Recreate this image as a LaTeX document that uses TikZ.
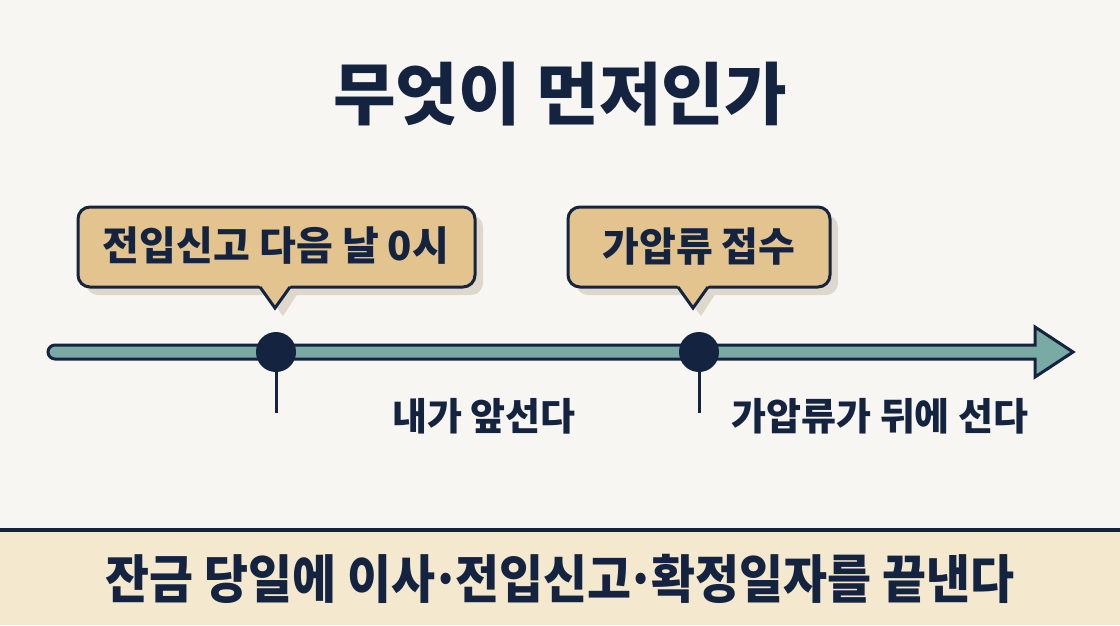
\documentclass[tikz,border=0pt]{standalone}
\usepackage{fontspec}
\setmainfont{Noto Sans CJK KR}
\definecolor{navy}{HTML}{14233F}
\definecolor{teal}{HTML}{7AAAA4}
\definecolor{tan}{HTML}{E3C48F}
\definecolor{bg}{HTML}{F7F6F2}
\definecolor{band}{HTML}{F4E8CE}
\definecolor{shadow}{HTML}{DDD7CC}
\newcommand{\mdot}{\kern-0.1em·\kern-0.1em}
\tikzset{
  txt/.style={text=navy, font=\bfseries, inner sep=0pt, anchor=center},
  callout/.style={fill=tan, draw=navy, line width=3pt, rounded corners=12pt},
  shadowbox/.style={fill=shadow, rounded corners=12pt},
  dot/.style={circle, fill=navy, minimum size=40pt, inner sep=0pt},
  stem/.style={draw=navy, line width=3pt},
}
\begin{document}
\begin{tikzpicture}[x=1pt, y=-1pt]
\useasboundingbox (0,0) rectangle (1120,625);
\fill[bg] (0,0) rectangle (1120,625);
% bottom band
\fill[band] (0,530) rectangle (1120,625);
\draw[navy, line width=3.5pt] (0,530) -- (1120,530);
% title
\node[txt, font=\fontsize{68}{68}\selectfont\bfseries] (title) at (560,94) {무엇이 먼저인가};
% timeline arrow
\draw[fill=teal, draw=navy, line width=3pt, line join=miter]
  (1035,345) -- (1035,327) -- (1073,352) -- (1035,377) -- (1035,359) -- (55,359)
  arc[start angle=90, end angle=270, radius=7] -- cycle;
% callout 1 shadow + box
\fill[shadowbox] (86,215) rectangle (483,295);
\fill[shadow] (266,293) -- (283,316) -- (298,293) -- cycle;
\draw[callout] (78,207) rectangle (475,287);
\fill[tan] (259,285) -- (275,307) -- (291,285) -- cycle;
\draw[navy, line width=3pt, line join=miter] (260,287) -- (275,308) -- (290,287);
\node[txt, font=\fontsize{40}{40}\selectfont\bfseries] (c1) at (276,246) {전입신고 다음 날 0시};
% callout 2 shadow + box
\fill[shadowbox] (576,215) rectangle (838,295);
\fill[shadow] (684,293) -- (701,316) -- (716,293) -- cycle;
\draw[callout] (568,207) rectangle (830,287);
\fill[tan] (677,285) -- (693,307) -- (709,285) -- cycle;
\draw[navy, line width=3pt, line join=miter] (678,287) -- (693,308) -- (708,287);
\node[txt, font=\fontsize{40}{40}\selectfont\bfseries] (c2) at (699,246) {가압류 접수};
% dots and stems
\node[dot] (d1) at (276,352) {};
\node[dot] (d2) at (699,352) {};
\coordinate (s1) at (276,413);
\coordinate (s2) at (699,413);
\draw[stem] (d1.south) -- (s1);
\draw[stem] (d2.south) -- (s2);
% labels
\node[txt, font=\fontsize{38}{38}\selectfont\bfseries] (l1) at (484,416) {내가 앞선다};
\node[txt, font=\fontsize{38}{38}\selectfont\bfseries] (l2) at (880,416) {가압류가 뒤에 선다};
% bottom text
\node[txt, font=\fontsize{52}{52}\selectfont\bfseries] (bottom) at (560,579) {\scalebox{0.92}[1]{잔금 당일에 이사\mdot 전입신고\mdot 확정일자를 끝낸다}};
\end{tikzpicture}
\end{document}
